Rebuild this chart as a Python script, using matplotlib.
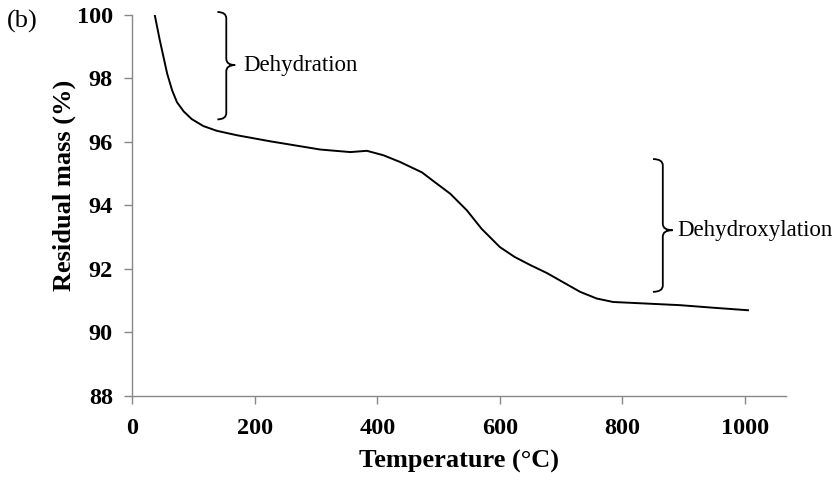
import matplotlib.pyplot as plt
from matplotlib.path import Path
from matplotlib.patches import PathPatch

# TGA curve
temperature = [37, 45, 57, 65, 73, 84, 97, 116, 138, 171, 225, 307, 356, 383,
               410, 437, 473, 492, 519, 546, 570, 600, 624, 650, 677, 698, 731,
               758, 785, 840, 894, 948, 1005]
residual_mass = [99.97, 99.2, 98.15, 97.63, 97.25, 96.96, 96.72, 96.5, 96.35,
                 96.21, 96.02, 95.76, 95.68, 95.72, 95.58, 95.37, 95.04, 94.76,
                 94.37, 93.85, 93.27, 92.69, 92.38, 92.12, 91.87, 91.64, 91.28,
                 91.07, 90.96, 90.91, 90.86, 90.78, 90.70]

x_ticks = [0, 200, 400, 600, 800, 1000]
y_ticks = [88, 90, 92, 94, 96, 98, 100]

plt.rcParams['font.family'] = ['Liberation Serif', 'DejaVu Serif']


def brace(ax, x, ybot, ytop, ymid, w, r):
    # curly brace opening left, tip pointing right
    xm = x + w / 2
    verts = [(x, ytop), (xm, ytop), (xm, ytop - r), (xm, ymid + r),
             (xm, ymid), (x + w, ymid), (xm, ymid), (xm, ymid - r),
             (xm, ybot + r), (xm, ybot), (x, ybot)]
    codes = [Path.MOVETO, Path.CURVE3, Path.CURVE3, Path.LINETO,
             Path.CURVE3, Path.CURVE3, Path.CURVE3, Path.CURVE3,
             Path.LINETO, Path.CURVE3, Path.CURVE3]
    ax.add_patch(PathPatch(Path(verts, codes), fill=False, lw=1.3,
                           color='black', clip_on=False))


fig = plt.figure(figsize=(8.37, 4.8), dpi=100)
ax = fig.add_axes([0.158, 0.175, 0.781, 0.794])

ax.plot(temperature, residual_mass, color='black', lw=1.4)

ax.set_xlim(0, 1067)
ax.set_ylim(88, 100)
ax.set_xticks(x_ticks)
ax.set_yticks(y_ticks)
for lab in ax.get_xticklabels() + ax.get_yticklabels():
    lab.set_fontweight('bold')
ax.tick_params(labelsize=17.5, color='#888888', length=6, width=1)
ax.tick_params(axis='x', pad=10)
ax.tick_params(axis='y', pad=8)

for side in ['top', 'right']:
    ax.spines[side].set_visible(False)
for side in ['left', 'bottom']:
    ax.spines[side].set_color('#888888')
    ax.spines[side].set_linewidth(1)

ax.set_xlabel('Temperature (°C)', fontsize=19, fontweight='bold', labelpad=8)
ax.set_ylabel('Residual mass (%)', fontsize=19, fontweight='bold')
ax.yaxis.set_label_coords(-0.086, 0.553)

brace(ax, 139, 96.71, 100.09, 98.42, 29, 0.2)
ax.text(181, 98.42, 'Dehydration', fontsize=16.5, ha='left', va='center')
brace(ax, 850, 91.28, 95.46, 93.22, 32, 0.2)
ax.text(889, 93.22, 'Dehydroxylation', fontsize=16.5, ha='left', va='center')

fig.text(0.008, 0.956, '(b)', fontsize=19, ha='left', va='center')

fig.savefig('out.png', dpi=100)
